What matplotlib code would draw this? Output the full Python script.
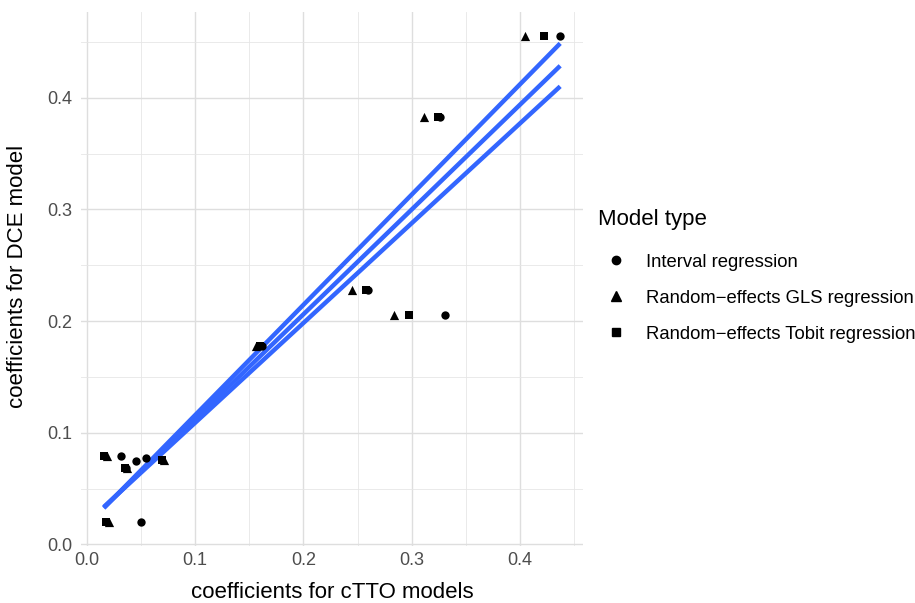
import numpy as np
import matplotlib.pyplot as plt
from matplotlib.lines import Line2D
from matplotlib.ticker import MultipleLocator

plt.rcParams['font.family'] = ['Liberation Sans', 'DejaVu Sans']

# coefficients, one pair of arrays per model
interval_x = [0.437, 0.326, 0.2597, 0.3306, 0.162, 0.0312, 0.0451, 0.0543, 0.0365, 0.0497]
interval_y = [0.455, 0.383, 0.228, 0.205, 0.178, 0.0796, 0.0748, 0.0772, 0.068, 0.0203]

gls_x = [0.4046, 0.3114, 0.2447, 0.2836, 0.156, 0.0185, 0.0372, 0.0715, 0.0204]
gls_y = [0.455, 0.383, 0.228, 0.205, 0.178, 0.0796, 0.068, 0.0757, 0.0203]

tobit_x = [0.4216, 0.3244, 0.258, 0.2972, 0.160, 0.0157, 0.0355, 0.0698, 0.0176]
tobit_y = [0.455, 0.383, 0.228, 0.205, 0.178, 0.0796, 0.068, 0.0757, 0.0203]

# fitted lines (intercept, slope) as seen in the picture
line_intercepts = [0.0170, 0.0183, 0.0195]
line_slopes = [0.9877, 0.9388, 0.8939]

model_names = ['Interval regression', 'Random\u2212effects GLS regression',
               'Random\u2212effects Tobit regression']

fig = plt.figure(figsize=(9.15, 6.03), dpi=100)
ax = fig.add_axes([81/915, 1-546/603, (583-81)/915, (546-12)/603])

all_x = np.array(interval_x + gls_x + tobit_x)
all_y = np.array(interval_y + gls_y + tobit_y)

# smooth lines over the data range
xs = np.array([all_x.min(), all_x.max()])
for b, m in zip(line_intercepts, line_slopes):
    ax.plot(xs, b + m*xs, color='#3366FF', lw=3.2, solid_capstyle='butt', zorder=2)

ax.scatter(interval_x, interval_y, marker='o', s=36, color='black', lw=0, zorder=3)
ax.scatter(gls_x, gls_y, marker='^', s=44, color='black', lw=0, zorder=3)
ax.scatter(tobit_x, tobit_y, marker='s', s=32, color='black', lw=0, zorder=3)

# ggplot-like 5% expansion
xr = all_x.max() - all_x.min()
yr = all_y.max() - all_y.min()
ax.set_xlim(all_x.min() - 0.05*xr, all_x.max() + 0.05*xr)
ax.set_ylim(all_y.min() - 0.05*yr, all_y.max() + 0.05*yr)

ax.xaxis.set_major_locator(MultipleLocator(0.1))
ax.yaxis.set_major_locator(MultipleLocator(0.1))
ax.xaxis.set_minor_locator(MultipleLocator(0.05))
ax.yaxis.set_minor_locator(MultipleLocator(0.05))
ax.xaxis.set_major_formatter(lambda v, p: f'{v:.1f}')
ax.yaxis.set_major_formatter(lambda v, p: f'{v:.1f}')

ax.grid(which='major', color='#DEDEDE', lw=1.0)
ax.grid(which='minor', color='#E6E6E6', lw=0.6)
ax.set_axisbelow(True)
for s in ax.spines.values():
    s.set_visible(False)
ax.tick_params(which='both', length=0, labelsize=13, labelcolor='#4D4D4D')
ax.tick_params(axis='x', pad=4)
ax.tick_params(axis='y', pad=6)

fig.text(332/915, 1-593/603, 'coefficients for cTTO models', ha='center', va='center', fontsize=16)
fig.text(18/915, 1-276/603, 'coefficients for DCE model', ha='center', va='center',
         fontsize=16, rotation=90)

handles = [Line2D([], [], ls='none', marker='o', ms=6, color='black'),
           Line2D([], [], ls='none', marker='^', ms=6.5, color='black'),
           Line2D([], [], ls='none', marker='s', ms=5.5, color='black')]
leg = fig.legend(handles, model_names, title='Model type', loc='center left',
                 bbox_to_anchor=(598/915, 1-276/603), frameon=False, fontsize=13.3,
                 title_fontsize=16, alignment='left', handlelength=1.9,
                 handletextpad=0.7, labelspacing=1.03, borderpad=0, borderaxespad=0)
leg._legend_box.sep = 17

fig.savefig('out.png', dpi=100)
